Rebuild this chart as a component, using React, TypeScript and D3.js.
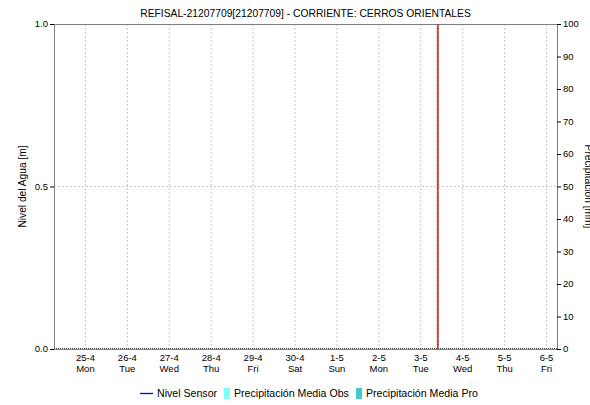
import React from "react";
import * as d3 from "d3";

const title = "REFISAL-21207709[21207709] - CORRIENTE: CERROS ORIENTALES";
const leftTitle = "Nivel del Agua [m]";
const rightTitle = "Precipitación [mm]";
const dayDates = ["25-4", "26-4", "27-4", "28-4", "29-4", "30-4", "1-5", "2-5", "3-5", "4-5", "5-5", "6-5"];
const dayNames = ["Mon", "Tue", "Wed", "Thu", "Fri", "Sat", "Sun", "Mon", "Tue", "Wed", "Thu", "Fri"];
const leftTicks = [0, 0.5, 1.0];
const rightTicks = [0, 10, 20, 30, 40, 50, 60, 70, 80, 90, 100];
const nowMarker = [new Date(2022, 4, 3, 9, 45)];
const legendItems = [
  { label: "Nivel Sensor", kind: "line", color: "#0000ff" },
  { label: "Precipitación Media Obs", kind: "box", color: "#80ffff" },
  { label: "Precipitación Media Pro", kind: "box", color: "#48c8c8" },
];

const W = 590, H = 405;
const M = { left: 54, right: 557, top: 24, bottom: 349 };
const FONT = "'Liberation Sans', Arial, sans-serif";

export default function App() {
  const start = new Date(2022, 3, 24, 6, 0);
  const end = new Date(2022, 4, 6, 6, 0);
  const x = d3.scaleTime().domain([start, end]).range([M.left, M.right]);
  const yL = d3.scaleLinear().domain([0, 1]).range([M.bottom, M.top]);
  const yR = d3.scaleLinear().domain([0, 100]).range([M.bottom, M.top]);
  const days = dayDates.map((_, i) => d3.timeDay.offset(new Date(2022, 3, 25, 0, 0), i));
  const cy = (M.top + M.bottom) / 2;

  const legendX = [140, 224, 356];
  const ly = 393;

  return (
    <svg width={W} height={H} style={{ position: "absolute", left: 0, top: 0, background: "#fff" }} fontFamily={FONT}>
      <rect width={W} height={H} fill="#fff" />
      {/* grid */}
      {days.map((d, i) => (
        <line key={"vg" + i} x1={x(d)} x2={x(d)} y1={M.top} y2={M.bottom} stroke="#c8c8c8" strokeDasharray="2,2" />
      ))}
      <line x1={M.left} x2={M.right} y1={yL(0.5)} y2={yL(0.5)} stroke="#c8c8c8" strokeDasharray="2,2" />
      {/* frame */}
      <line x1={M.left} x2={M.right} y1={M.top + 0.5} y2={M.top + 0.5} stroke="#808080" />
      <line x1={M.left + 0.5} x2={M.left + 0.5} y1={M.top} y2={M.bottom} stroke="#808080" />
      <line x1={M.right + 0.5} x2={M.right + 0.5} y1={M.top} y2={M.bottom} stroke="#808080" />
      <line x1={M.left} x2={M.right} y1={M.bottom + 0.5} y2={M.bottom + 0.5} stroke="#808080" />
      <line x1={M.left} x2={M.right} y1={M.bottom - 0.5} y2={M.bottom - 0.5} stroke="#404040" strokeDasharray="1,1" />
      {/* now marker */}
      {nowMarker.map((d, i) => (
        <g key={"now" + i}>
          <line x1={x(d)} x2={x(d)} y1={M.top} y2={M.bottom} stroke="#e83c3c" strokeWidth={2} />
          <line x1={x(d) + 0.5} x2={x(d) + 0.5} y1={M.top} y2={M.bottom} stroke="#505050" strokeDasharray="1,3" />
        </g>
      ))}
      {/* left axis */}
      {leftTicks.map((t) => (
        <g key={"lt" + t}>
          <line x1={M.left - 4} x2={M.left} y1={yL(t) + 0.5} y2={yL(t) + 0.5} stroke="#000" />
          <text x={M.left - 6} y={yL(t)} dy="0.35em" textAnchor="end" fontSize={9.5} fill="#000">
            {t.toFixed(1)}
          </text>
        </g>
      ))}
      {/* right axis */}
      {rightTicks.map((t) => (
        <g key={"rt" + t}>
          <line x1={M.right} x2={M.right + 4} y1={yR(t) + 0.5} y2={yR(t) + 0.5} stroke="#000" />
          <text x={M.right + 6} y={yR(t)} dy="0.35em" textAnchor="start" fontSize={9.5} fill="#000">
            {t}
          </text>
        </g>
      ))}
      {/* bottom labels */}
      {days.map((d, i) => (
        <g key={"bl" + i}>
          <text x={x(d)} y={358} dy="0.35em" textAnchor="middle" fontSize={9.5} fill="#000">{dayDates[i]}</text>
          <text x={x(d)} y={369} dy="0.35em" textAnchor="middle" fontSize={9.5} fill="#000">{dayNames[i]}</text>
        </g>
      ))}
      {/* titles */}
      <text x={(M.left + M.right) / 2} y={13} dy="0.35em" textAnchor="middle" fontSize={10.3} fill="#000">{title}</text>
      <text transform={`translate(26,${cy}) rotate(-90)`} textAnchor="middle" fontSize={10.2} fill="#000">{leftTitle}</text>
      <text transform={`translate(585,${cy}) rotate(90)`} textAnchor="middle" fontSize={10.2} fill="#000">{rightTitle}</text>
      {/* legend */}
      {legendItems.map((it, i) => (
        <g key={"lg" + i}>
          {it.kind === "line" ? (
            <line x1={legendX[i]} x2={legendX[i] + 13} y1={ly + 0.5} y2={ly + 0.5} stroke={it.color} strokeWidth={1.3} />
          ) : (
            <rect x={legendX[i]} y={ly - 5} width={6} height={11} fill={it.color} />
          )}
          <text x={legendX[i] + (it.kind === "line" ? 17 : 10)} y={ly} dy="0.35em" fontSize={10.6} fill="#000">{it.label}</text>
        </g>
      ))}
    </svg>
  );
}
